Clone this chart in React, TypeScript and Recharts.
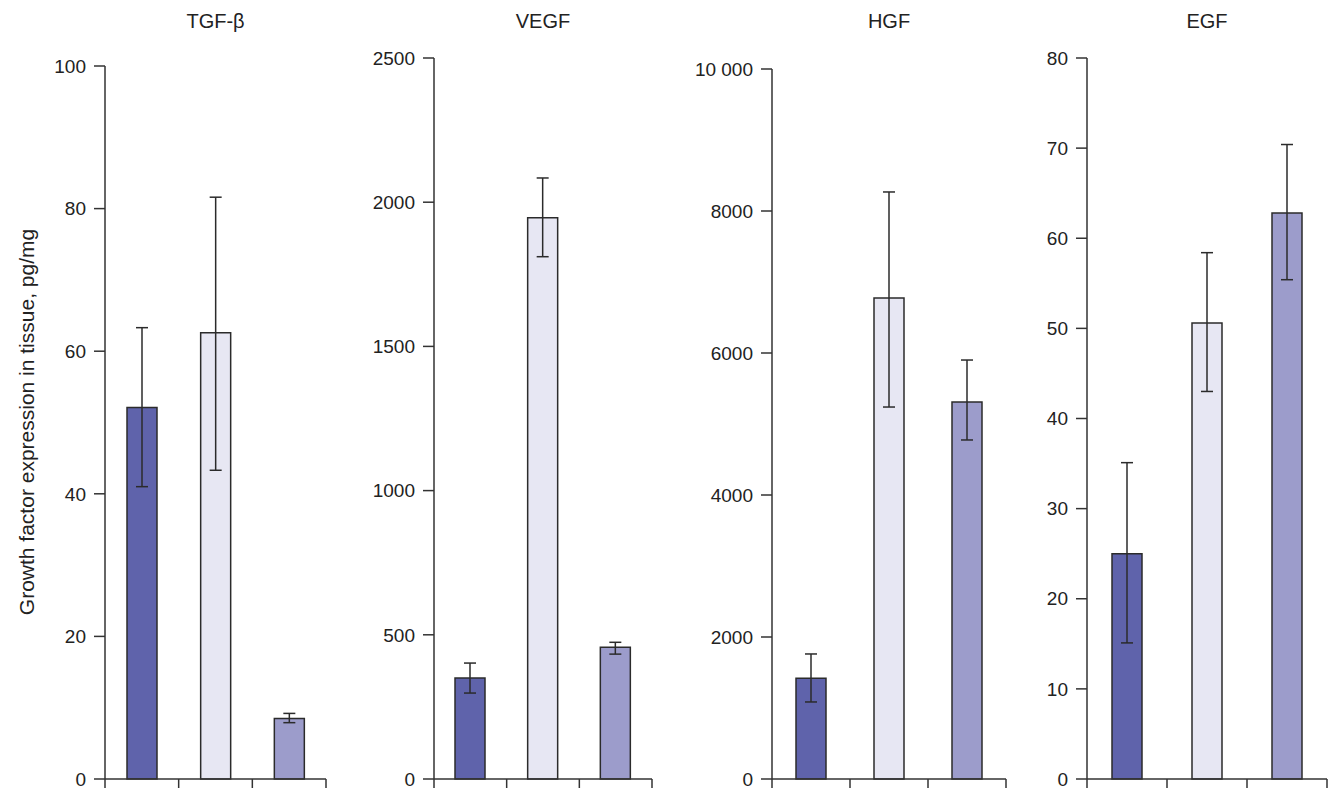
import React from 'react';
import { BarChart, Bar, XAxis, YAxis, ErrorBar, Cell } from 'recharts';

const groups = ['Group 1', 'Group 2', 'Group 3'];
const groupPos = [0.5, 1.5, 2.5];
const barColors = ['#5F63AB', '#E7E7F3', '#9C9CCB'];

const panelTitles = ['TGF-β', 'VEGF', 'HGF', 'EGF'];

const tgfMean = [52.1, 62.6, 8.5];
const tgfHigh = [63.3, 81.6, 9.2];
const tgfLow = [41.0, 43.3, 7.9];

const vegfMean = [350, 1946, 457];
const vegfHigh = [402, 2084, 474];
const vegfLow = [298, 1811, 433];

const hgfMean = [1420, 6775, 5310];
const hgfHigh = [1761, 8268, 5901];
const hgfLow = [1085, 5239, 4775];

const egfMean = [25.0, 50.6, 62.8];
const egfHigh = [35.1, 58.4, 70.4];
const egfLow = [15.1, 43.0, 55.4];

const tgfTicks = [0, 20, 40, 60, 80, 100];
const vegfTicks = [0, 500, 1000, 1500, 2000, 2500];
const hgfTicks = [0, 2000, 4000, 6000, 8000, 10000];
const egfTicks = [0, 10, 20, 30, 40, 50, 60, 70, 80];
const xTicks = [0, 1, 2, 3];

const yLabel = 'Growth factor expression in tissue, pg/mg';

const FONT = '"Liberation Sans", Arial, Helvetica, sans-serif';
const AXIS = '#333333';

function build(mean: number[], high: number[], low: number[]) {
  return groups.map((g, i) => ({
    name: g,
    x: groupPos[i],
    value: mean[i],
    err: [mean[i] - low[i], high[i] - mean[i]],
  }));
}

const panels = [
  { title: panelTitles[0], data: build(tgfMean, tgfHigh, tgfLow), ticks: tgfTicks, axisX: 105, endX: 326, topY: 66 },
  { title: panelTitles[1], data: build(vegfMean, vegfHigh, vegfLow), ticks: vegfTicks, axisX: 434, endX: 652, topY: 58 },
  { title: panelTitles[2], data: build(hgfMean, hgfHigh, hgfLow), ticks: hgfTicks, axisX: 772, endX: 1006, topY: 69 },
  { title: panelTitles[3], data: build(egfMean, egfHigh, egfLow), ticks: egfTicks, axisX: 1087, endX: 1327, topY: 58 },
];

const fmt = (v: number) => (v >= 10000 ? '10 000' : String(v));

const Y_AXIS_W = 90;
const CHART_H = 800;
const BOTTOM_Y = 779;
const X_AXIS_H = 12;

function Panel({ p }: { p: typeof panels[number] }) {
  const left = p.axisX - Y_AXIS_W;
  const width = p.endX - left + 4;
  const domainMax = p.ticks[p.ticks.length - 1];
  return (
    <div style={{ position: 'absolute', left, top: 0, width, height: CHART_H }}>
      <BarChart
        width={width}
        height={CHART_H}
        data={p.data}
        margin={{ top: p.topY, right: 4, left: 0, bottom: CHART_H - BOTTOM_Y - X_AXIS_H }}
      >
        <XAxis
          type="number"
          dataKey="x"
          domain={[0, 3]}
          ticks={xTicks}
          tickFormatter={() => ''}
          tickSize={10}
          height={X_AXIS_H}
          axisLine={{ stroke: AXIS, strokeWidth: 1.5 }}
          tickLine={{ stroke: AXIS, strokeWidth: 1.5 }}
          allowDataOverflow
        />
        <YAxis
          type="number"
          domain={[0, domainMax]}
          ticks={p.ticks}
          tickFormatter={fmt}
          width={Y_AXIS_W}
          tickSize={11}
          tickMargin={8}
          interval={0}
          axisLine={{ stroke: AXIS, strokeWidth: 1.5 }}
          tickLine={{ stroke: AXIS, strokeWidth: 1.5 }}
          tick={{ fill: '#222222', fontSize: 19, fontFamily: FONT }}
        />
        <Bar dataKey="value" barSize={30} stroke="#2b2b2b" strokeWidth={1.5} isAnimationActive={false}>
          {p.data.map((d, i) => (
            <Cell key={d.name} fill={barColors[i]} />
          ))}
          <ErrorBar dataKey="err" width={6} stroke="#2b2b2b" strokeWidth={1.5} direction="y" isAnimationActive={false} />
        </Bar>
      </BarChart>
      <div
        style={{
          position: 'absolute',
          left: Y_AXIS_W + (p.endX - p.axisX) / 2,
          top: 21,
          transform: 'translate(-50%, -50%)',
          fontFamily: FONT,
          fontSize: 20,
          color: '#222222',
          whiteSpace: 'nowrap',
        }}
      >
        {p.title}
      </div>
    </div>
  );
}

export default function App() {
  return (
    <div
      style={{
        position: 'absolute',
        left: 0,
        top: 0,
        width: 1329,
        height: 788,
        overflow: 'hidden',
        background: '#ffffff',
      }}
    >
      {panels.map((p) => (
        <Panel key={p.title} p={p} />
      ))}
      <div
        style={{
          position: 'absolute',
          left: 27,
          top: 422,
          transform: 'translate(-50%, -50%) rotate(-90deg)',
          fontFamily: FONT,
          fontSize: 21,
          color: '#222222',
          whiteSpace: 'nowrap',
        }}
      >
        {yLabel}
      </div>
    </div>
  );
}
